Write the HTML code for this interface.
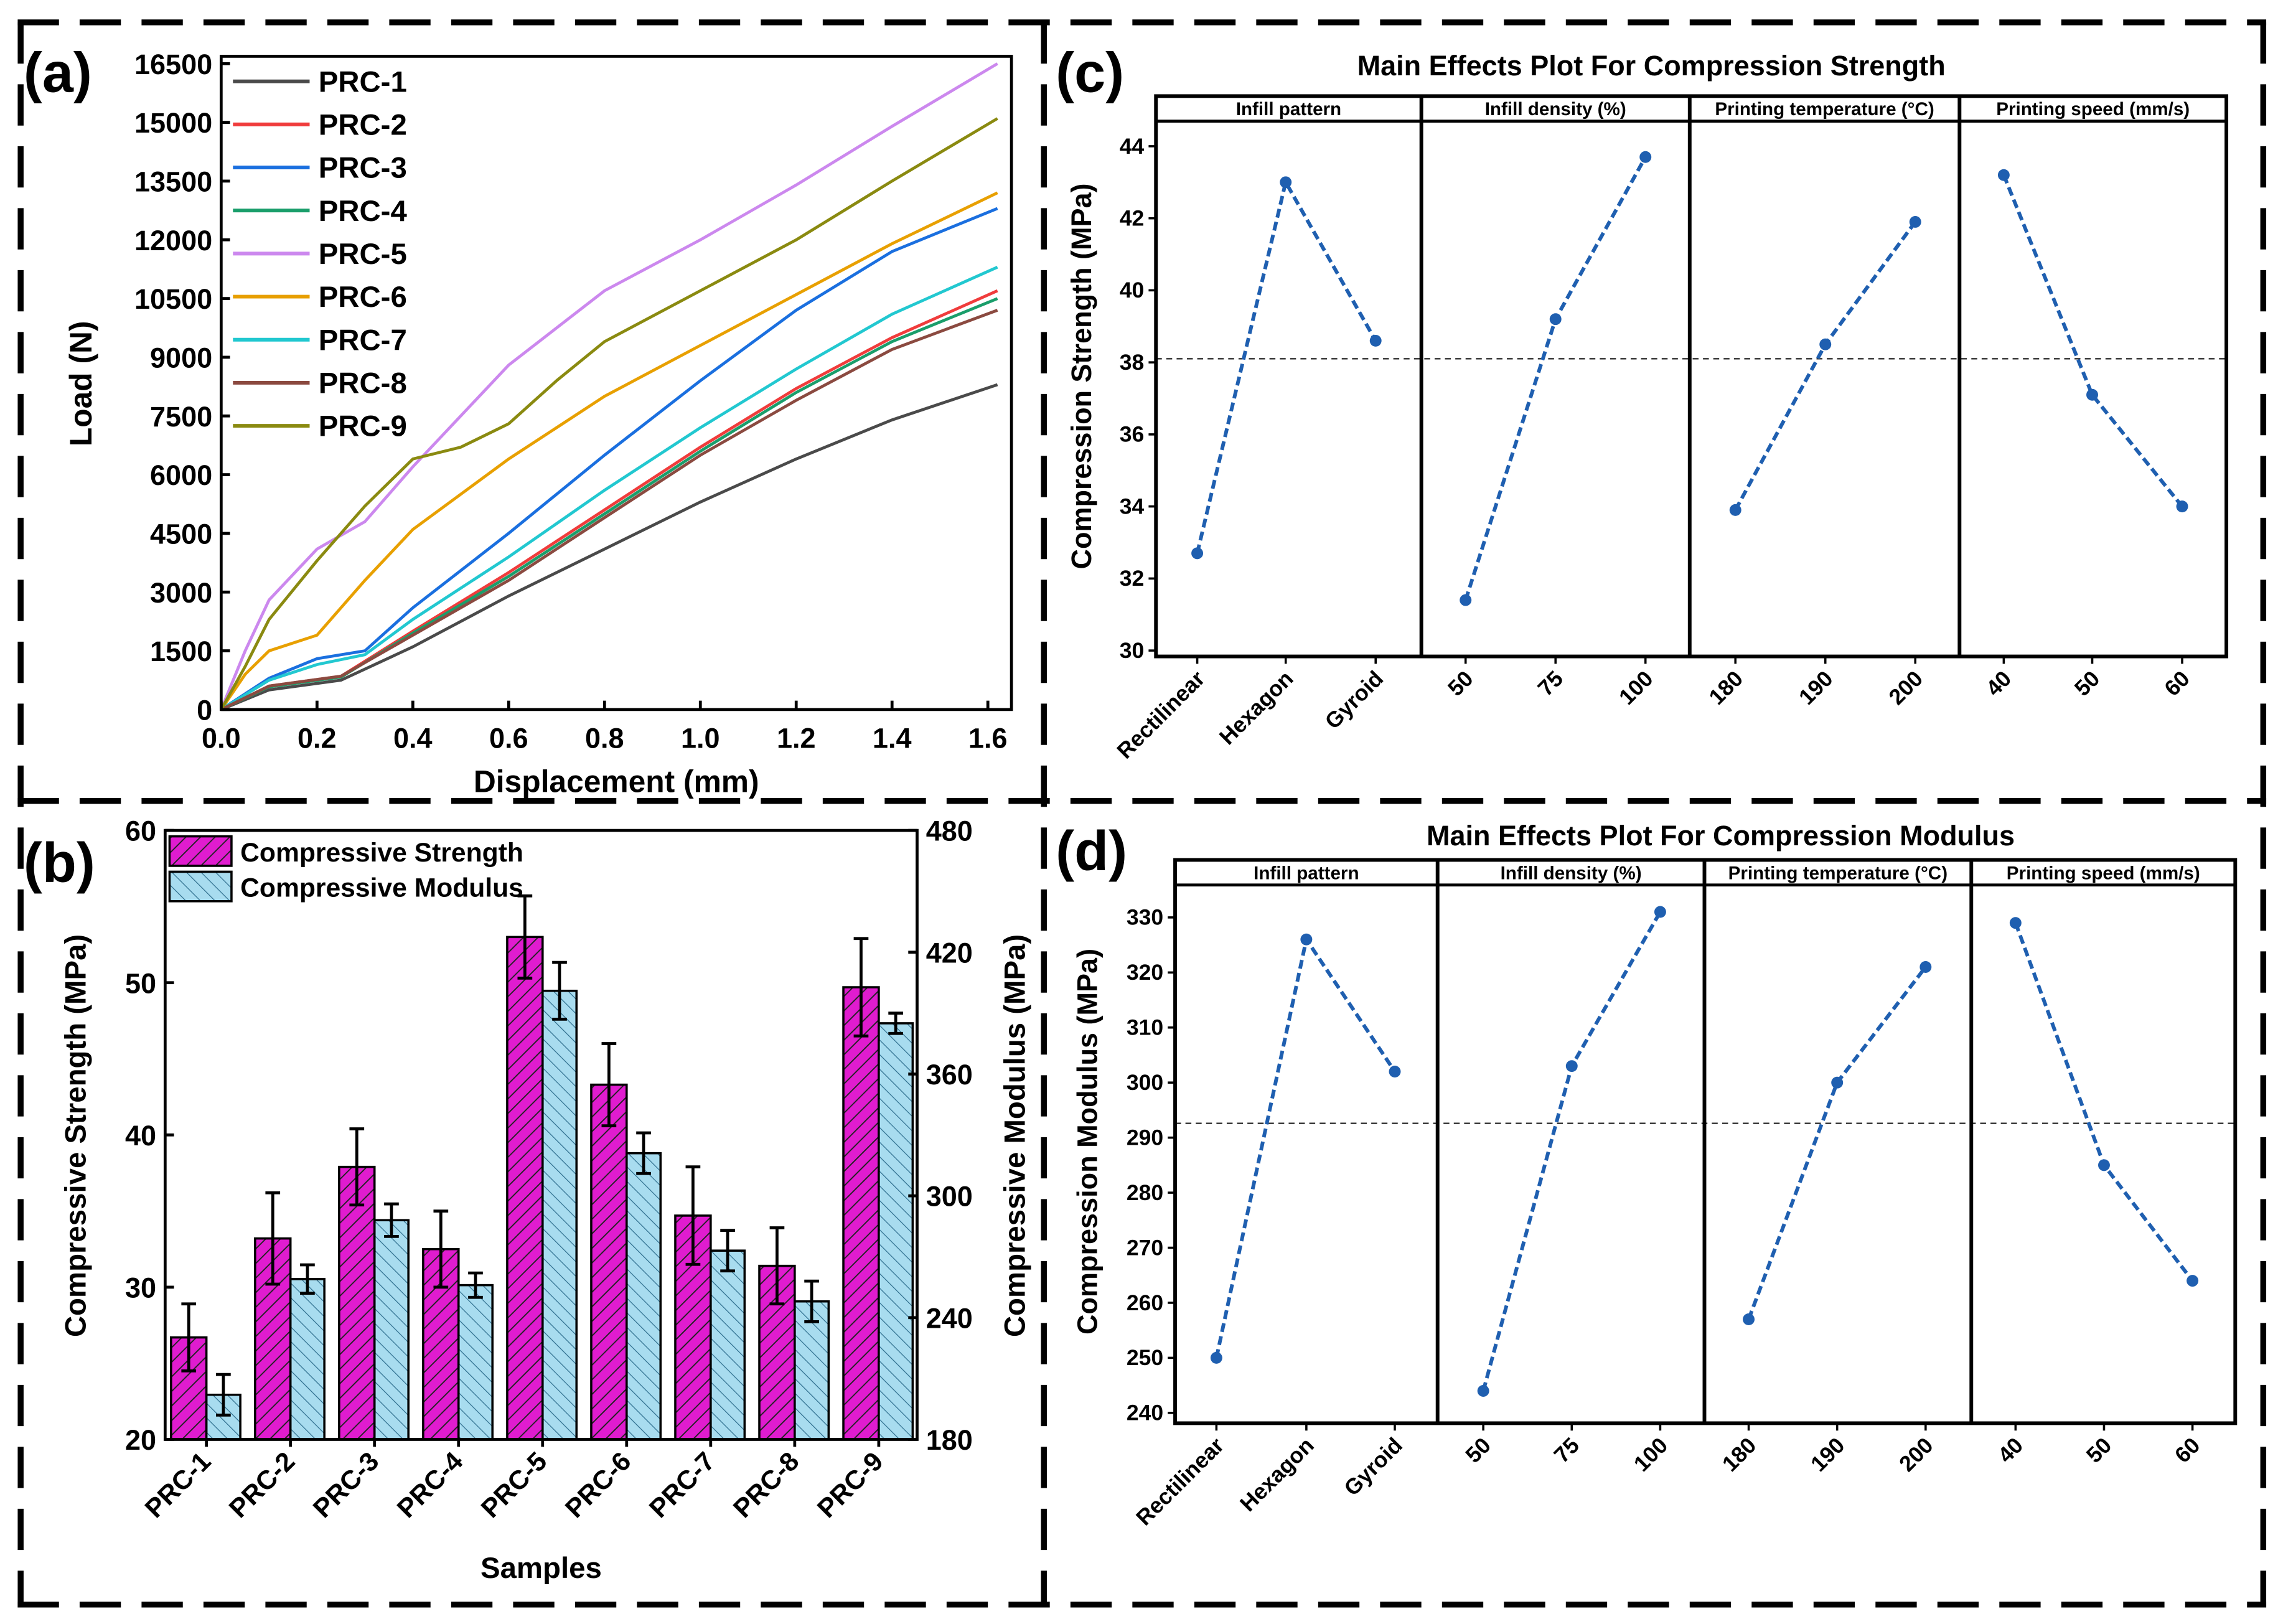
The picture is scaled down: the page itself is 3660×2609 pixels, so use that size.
<!DOCTYPE html>
<html><head><meta charset="utf-8"><style>
html,body{margin:0;padding:0;background:#fff}
svg{display:block}
text{font-family:"Liberation Sans",sans-serif;font-weight:bold;fill:#000}
</style></head><body>
<svg id="fig" width="3660" height="2609" viewBox="0 0 1545 1101" xmlns="http://www.w3.org/2000/svg">
<defs>
<pattern id="hatchM" width="7" height="7" patternUnits="userSpaceOnUse" patternTransform="rotate(45)"><rect width="7" height="7" fill="#e01ccf"/><line x1="0" y1="0" x2="0" y2="7" stroke="#222" stroke-width="1.6"/></pattern>
<pattern id="hatchB" width="7" height="7" patternUnits="userSpaceOnUse" patternTransform="rotate(-45)"><rect width="7" height="7" fill="#a8dcef"/><line x1="0" y1="0" x2="0" y2="7" stroke="#2a6a8a" stroke-width="1"/></pattern>
</defs>
<g id="root"></g>
</svg>
<script>
// ---------- Panel (a) data ----------
const aNames=["PRC-1","PRC-2","PRC-3","PRC-4","PRC-5","PRC-6","PRC-7","PRC-8","PRC-9"];
const aColors=["#4a4a4a","#f03c3c","#1a6fdf","#1a9e6b","#cc88ee","#e8a000","#22c8d0","#8b4a40","#8a8a10"];
const aX1=[0,0.1,0.25,0.4,0.6,0.8,1.0,1.2,1.4,1.62];
const aY1=[0,500,750,1600,2900,4100,5300,6400,7400,8300];
const aX2=[0,0.1,0.25,0.4,0.6,0.8,1.0,1.2,1.4,1.62];
const aY2=[0,600,850,2000,3500,5100,6700,8200,9500,10700];
const aX3=[0,0.1,0.2,0.3,0.4,0.6,0.8,1.0,1.2,1.4,1.62];
const aY3=[0,800,1300,1500,2600,4500,6500,8400,10200,11700,12800];
const aX4=[0,0.1,0.25,0.4,0.6,0.8,1.0,1.2,1.4,1.62];
const aY4=[0,580,830,1950,3400,5000,6600,8100,9400,10500];
const aX5=[0,0.05,0.1,0.2,0.3,0.4,0.6,0.8,1.0,1.2,1.4,1.62];
const aY5=[0,1500,2800,4100,4800,6200,8800,10700,12000,13400,14900,16500];
const aX6=[0,0.05,0.1,0.2,0.3,0.4,0.6,0.8,1.0,1.2,1.4,1.62];
const aY6=[0,900,1500,1900,3300,4600,6400,8000,9300,10600,11900,13200];
const aX7=[0,0.1,0.2,0.3,0.4,0.6,0.8,1.0,1.2,1.4,1.62];
const aY7=[0,750,1150,1400,2300,3900,5600,7200,8700,10100,11300];
const aX8=[0,0.1,0.25,0.4,0.6,0.8,1.0,1.2,1.4,1.62];
const aY8=[0,600,850,1900,3300,4900,6500,7900,9200,10200];
const aX9=[0,0.05,0.1,0.2,0.3,0.4,0.5,0.6,0.7,0.8,1.0,1.2,1.4,1.62];
const aY9=[0,1100,2300,3800,5200,6400,6700,7300,8400,9400,10700,12000,13500,15100];
const aYTicks=[0,1500,3000,4500,6000,7500,9000,10500,12000,13500,15000,16500];
const aXTicks=[0,0.2,0.4,0.6,0.8,1.0,1.2,1.4,1.6];
// ---------- Panel (b) data ----------
const bCats=["PRC-1","PRC-2","PRC-3","PRC-4","PRC-5","PRC-6","PRC-7","PRC-8","PRC-9"];
const bStrength=[26.7,33.2,37.9,32.5,53.0,43.3,34.7,31.4,49.7];
const bStrengthErr=[2.2,3.0,2.5,2.5,2.7,2.7,3.2,2.5,3.2];
const bModulus=[202,259,288,256,401,321,273,248,385];
const bModulusErr=[10,7,8,6,14,10,10,10,5];
const bLeftTicks=[20,30,40,50,60];
const bRightTicks=[180,240,300,360,420,480];
// ---------- Panel (c),(d) data ----------
const facetTitles=["Infill pattern","Infill density (%)","Printing temperature (°C)","Printing speed (mm/s)"];
const facetLevels=[["Rectilinear","Hexagon","Gyroid"],["50","75","100"],["180","190","200"],["40","50","60"]];
const cValues=[[32.7,43.0,38.6],[31.4,39.2,43.7],[33.9,38.5,41.9],[43.2,37.1,34.0]];
const cMean=[38.1];
const cTicks=[30,32,34,36,38,40,42,44];
const dValues=[[250,326,302],[244,303,331],[257,300,321],[329,285,264]];
const dMean=[292.6];
const dTicks=[240,250,260,270,280,290,300,310,320,330];

const NS="http://www.w3.org/2000/svg";
const root=document.getElementById('root');
function mk(tag,name,attrs,parent,txt){
  const el=document.createElementNS(NS,tag);
  for(const k in attrs) el.setAttribute(k,attrs[k]);
  
  
  if(txt!==undefined) el.textContent=txt;
  (parent||root).appendChild(el);
  return el;
}
// ---------- dashed frames ----------
const dash={stroke:"#000","stroke-width":4,"stroke-dasharray":"28 14",fill:"none"};
[[14,15,14,1090],[12,15,1537,15],[1535,15,1535,1090],[12,1088,1537,1088],[708,15,708,1090],[12,543,1537,543]].forEach(l=>{
  mk('line','panel-divider',Object.assign({x1:l[0],y1:l[1],x2:l[2],y2:l[3]},dash));
});

// ---------- Panel (a) ----------
(function(){
  const g=mk('g','load-displacement-chart',{});
  const L=150,R=686,T=38,B=481;
  const xs=v=>L+v/0.2*65, ys=v=>B-v/16500*(B-43);
  mk('text','panel-label-a',{x:16,y:62,"font-size":38},g,"(a)");
  const series=[[aX1,aY1],[aX2,aY2],[aX3,aY3],[aX4,aY4],[aX5,aY5],[aX6,aY6],[aX7,aY7],[aX8,aY8],[aX9,aY9]];
  series.forEach((s,i)=>{
    const d=s[0].map((x,j)=>(j?'L':'M')+xs(x).toFixed(1)+','+ys(s[1][j]).toFixed(1)).join('');
    mk('path','line-'+aNames[i].toLowerCase(),{d:d,stroke:aColors[i],"stroke-width":2,fill:"none"},g);
  });
  mk('rect','plot-frame-a',{x:L,y:T,width:R-L,height:B-T,fill:"none",stroke:"#000","stroke-width":2},g);
  aYTicks.forEach(v=>{
    mk('line','y-tick',{x1:L,x2:L+6,y1:ys(v),y2:ys(v),stroke:"#000","stroke-width":2},g);
    mk('text','y-tick-label',{x:L-6,y:ys(v)+7,"font-size":19,"text-anchor":"end"},g,v);
  });
  aXTicks.forEach(v=>{
    mk('line','x-tick',{x1:xs(v),x2:xs(v),y1:B,y2:B-6,stroke:"#000","stroke-width":2},g);
    mk('text','x-tick-label',{x:xs(v),y:B+26,"font-size":19,"text-anchor":"middle"},g,v.toFixed(1));
  });
  mk('text','x-axis-title',{x:(L+R)/2,y:537,"font-size":21,"text-anchor":"middle"},g,"Displacement (mm)");
  mk('text','y-axis-title',{x:62,y:260,"font-size":21,"text-anchor":"middle",transform:"rotate(-90 62 260)"},g,"Load (N)");
  aNames.forEach((n,i)=>{
    const y=55+i*29.2;
    mk('line','legend-swatch',{x1:158,x2:210,y1:y,y2:y,stroke:aColors[i],"stroke-width":2.5},g);
    mk('text','legend-entry',{x:216,y:y+7,"font-size":20},g,n);
  });
})();

// ---------- Panel (b) ----------
(function(){
  const g=mk('g','strength-modulus-bar-chart',{});
  const L=112,R=622,T=563,B=976;
  const yl=v=>B-(v-20)/40*(B-T), yr=v=>B-(v-180)/300*(B-T);
  const cx=i=>140+i*57;
  mk('text','panel-label-b',{x:16,y:598,"font-size":38},g,"(b)");
  bCats.forEach((c,i)=>{
    const x=cx(i);
    mk('rect','bar-strength-'+c.toLowerCase(),{x:x-24,y:yl(bStrength[i]),width:24,height:B-yl(bStrength[i]),fill:"url(#hatchM)",stroke:"#000","stroke-width":1.5},g);
    mk('rect','bar-modulus-'+c.toLowerCase(),{x:x,y:yr(bModulus[i]),width:23,height:B-yr(bModulus[i]),fill:"url(#hatchB)",stroke:"#000","stroke-width":1.5},g);
    [[x-12,yl(bStrength[i]+bStrengthErr[i]),yl(bStrength[i]-bStrengthErr[i])],[x+11.5,yr(bModulus[i]+bModulusErr[i]),yr(bModulus[i]-bModulusErr[i])]].forEach(e=>{
      mk('line','error-bar',{x1:e[0],x2:e[0],y1:e[1],y2:e[2],stroke:"#000","stroke-width":2},g);
      mk('line','error-cap',{x1:e[0]-5,x2:e[0]+5,y1:e[1],y2:e[1],stroke:"#000","stroke-width":2},g);
      mk('line','error-cap',{x1:e[0]-5,x2:e[0]+5,y1:e[2],y2:e[2],stroke:"#000","stroke-width":2},g);
    });
    mk('line','x-tick',{x1:x,x2:x,y1:B,y2:B+5,stroke:"#000","stroke-width":2},g);
    mk('text','x-tick-label',{x:x+4,y:B+16,"font-size":18,"text-anchor":"end",transform:`rotate(-45 ${x+4} ${B+16})`},g,c);
  });
  mk('rect','plot-frame-b',{x:L,y:T,width:R-L,height:B-T,fill:"none",stroke:"#000","stroke-width":2},g);
  bLeftTicks.forEach(v=>{
    mk('line','y-left-tick',{x1:L,x2:L+6,y1:yl(v),y2:yl(v),stroke:"#000","stroke-width":2},g);
    mk('text','y-left-tick-label',{x:L-6,y:yl(v)+7,"font-size":19,"text-anchor":"end"},g,v);
  });
  bRightTicks.forEach(v=>{
    mk('line','y-right-tick',{x1:R,x2:R-6,y1:yr(v),y2:yr(v),stroke:"#000","stroke-width":2},g);
    mk('text','y-right-tick-label',{x:R+6,y:yr(v)+7,"font-size":19},g,v);
  });
  mk('text','y-left-axis-title',{x:58,y:770,"font-size":20,"text-anchor":"middle",transform:"rotate(-90 58 770)"},g,"Compressive Strength (MPa)");
  mk('text','y-right-axis-title',{x:695,y:770,"font-size":20,"text-anchor":"middle",transform:"rotate(-90 695 770)"},g,"Compressive Modulus (MPa)");
  mk('text','x-axis-title',{x:367,y:1070,"font-size":20,"text-anchor":"middle"},g,"Samples");
  mk('rect','legend-swatch-strength',{x:115,y:567,width:42,height:20,fill:"url(#hatchM)",stroke:"#000","stroke-width":1.5},g);
  mk('text','legend-entry',{x:163,y:584,"font-size":18},g,"Compressive Strength");
  mk('rect','legend-swatch-modulus',{x:115,y:591,width:42,height:20,fill:"url(#hatchB)",stroke:"#000","stroke-width":1.5},g);
  mk('text','legend-entry',{x:163,y:608,"font-size":18},g,"Compressive Modulus");
})();

// ---------- Main effects plots ----------
function mainEffects(cfg){
  const g=mk('g',cfg.name,{});
  const {L,R,T,B,seps,px,vals,mean,ticks,ys}=cfg;
  mk('text','panel-label-'+cfg.letter,{x:cfg.lx,y:cfg.ly,"font-size":38},g,"("+cfg.letter+")");
  mk('text','chart-title',{x:cfg.tx,y:cfg.ty,"font-size":19,"text-anchor":"middle"},g,cfg.title);
  const edges=[L].concat(seps).concat([R]);
  mk('line','mean-line',{x1:L,x2:R,y1:ys(mean[0]),y2:ys(mean[0]),stroke:"#333","stroke-width":1,"stroke-dasharray":"4 3"},g);
  for(let f=0;f<4;f++){
    mk('rect','facet-header',{x:edges[f],y:T,width:edges[f+1]-edges[f],height:17,fill:"#fff",stroke:"#000","stroke-width":2},g);
    mk('text','facet-title',{x:(edges[f]+edges[f+1])/2,y:T+13,"font-size":12.5,"text-anchor":"middle"},g,facetTitles[f]);
    const d=vals[f].map((v,j)=>(j?'L':'M')+px[f][j]+','+ys(v).toFixed(1)).join('');
    mk('path','effect-line',{d:d,stroke:"#1f5fb0","stroke-width":2.5,"stroke-dasharray":"6 3",fill:"none"},g);
    vals[f].forEach((v,j)=>{
      mk('circle','effect-point',{cx:px[f][j],cy:ys(v),r:4,fill:"#1f5fb0"},g);
      mk('line','x-tick',{x1:px[f][j],x2:px[f][j],y1:B,y2:B+5,stroke:"#000","stroke-width":1.5},g);
      const tx=px[f][j]+6,ty=B+16;
      mk('text','x-tick-label',{x:tx,y:ty,"font-size":15,"text-anchor":"end",transform:`rotate(-45 ${tx} ${ty})`},g,facetLevels[f][j]);
    });
  }
  seps.forEach(s=>mk('line','facet-separator',{x1:s,x2:s,y1:T,y2:B,stroke:"#000","stroke-width":2.5},g));
  mk('rect','plot-frame',{x:L,y:T,width:R-L,height:B-T,fill:"none",stroke:"#000","stroke-width":2.5},g);
  ticks.forEach(v=>{
    mk('line','y-tick',{x1:L,x2:L-5,y1:ys(v),y2:ys(v),stroke:"#000","stroke-width":1.5},g);
    mk('text','y-tick-label',{x:L-8,y:ys(v)+5,"font-size":15,"text-anchor":"end"},g,v);
  });
  mk('text','y-axis-title',{x:cfg.yx,y:(T+B)/2,"font-size":19,"text-anchor":"middle",transform:`rotate(-90 ${cfg.yx} ${(T+B)/2})`},g,cfg.ytitle);
}
mainEffects({name:'main-effects-strength',letter:'c',lx:716,ly:62,title:"Main Effects Plot For Compression Strength",tx:1120,ty:51,
  L:784,R:1510,T:65,B:445,seps:[964,1146,1329],
  px:[[812,872,933],[994,1055,1116],[1177,1238,1299],[1359,1419,1480]],
  vals:cValues,mean:cMean,ticks:cTicks,ys:v=>441-(v-30)/14*342,yx:740,ytitle:"Compression Strength (MPa)"});
mainEffects({name:'main-effects-modulus',letter:'d',lx:716,ly:590,title:"Main Effects Plot For Compression Modulus",tx:1167,ty:573,
  L:797,R:1516,T:583,B:965,seps:[975,1156,1337],
  px:[[825,886,946],[1006,1066,1126],[1186,1246,1306],[1367,1427,1487]],
  vals:dValues,mean:dMean,ticks:dTicks,ys:v=>958-(v-240)/90*336,yx:744,ytitle:"Compression Modulus (MPa)"});
</script>
</body></html>
